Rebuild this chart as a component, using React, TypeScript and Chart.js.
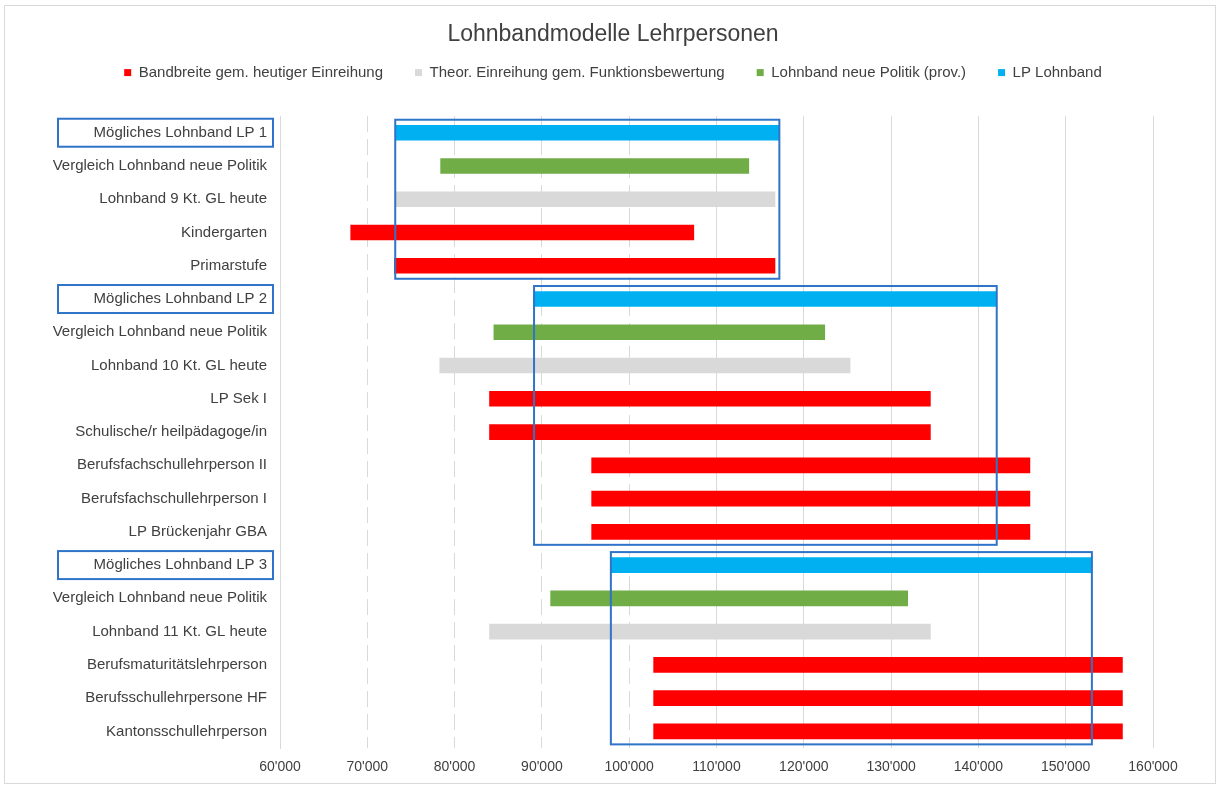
import React, { useEffect, useRef } from 'react';
import { Chart, registerables } from 'chart.js';

Chart.register(...registerables);

const categories = [
  'Mögliches Lohnband LP 1',
  'Vergleich Lohnband neue Politik',
  'Lohnband 9 Kt. GL heute',
  'Kindergarten',
  'Primarstufe',
  'Mögliches Lohnband LP 2',
  'Vergleich Lohnband neue Politik',
  'Lohnband 10 Kt. GL heute',
  'LP Sek I',
  'Schulische/r heilpädagoge/in',
  'Berufsfachschullehrperson II',
  'Berufsfachschullehrperson I',
  'LP Brückenjahr GBA',
  'Mögliches Lohnband LP 3',
  'Vergleich Lohnband neue Politik',
  'Lohnband 11 Kt. GL heute',
  'Berufsmaturitätslehrperson',
  'Berufsschullehrpersone HF',
  'Kantonsschullehrperson',
];

type Band = [number, number] | null;

// Bandbreite gem. heutiger Einreihung (red)
const bandbreite: Band[] = [
  null, null, null, [68100, 107400], [73100, 116700],
  null, null, null, [84000, 134500], [84000, 134500], [95700, 145900], [95700, 145900], [95700, 145900],
  null, null, null, [102800, 156500], [102800, 156500], [102800, 156500],
];

// Theor. Einreihung gem. Funktionsbewertung (grey)
const theorEinreihung: Band[] = [
  null, null, [73300, 116700], null, null,
  null, null, [78300, 125300], null, null, null, null, null,
  null, null, [84000, 134500], null, null, null,
];

// Lohnband neue Politik (prov.) (green)
const neuePolitik: Band[] = [
  null, [78400, 113700], null, null, null,
  null, [84500, 122400], null, null, null, null, null, null,
  null, [91000, 131900], null, null, null, null,
];

// LP Lohnband (blue)
const lpLohnband: Band[] = [
  [73200, 117200], null, null, null, null,
  [89100, 142100], null, null, null, null, null, null, null,
  [97900, 153000], null, null, null, null, null,
];

// group rows: first row (LP Lohnband) and last row of each group
const groupFirstRows = [0, 5, 13];
const groupLastRows = [4, 12, 18];

const xTicksMin = 60000;
const xTicksMax = 160000;
const xTicksStep = 10000;
const dashedGridValues = [70000, 80000, 90000, 100000];

const fmt = (v: number) => String(Math.round(v)).replace(/\B(?=(\d{3})+(?!\d))/g, "'");

const FONT = "'Liberation Sans', Arial, sans-serif";

const groupBoxesPlugin = {
  id: 'groupBoxes',
  afterDatasetsDraw(chart: any) {
    const xs = chart.scales.x;
    const ys = chart.scales.y;
    const ctx = chart.ctx as CanvasRenderingContext2D;
    ctx.save();
    ctx.strokeStyle = '#2F74C8';
    ctx.lineWidth = 2;
    groupFirstRows.forEach((first, g) => {
      const last = groupLastRows[g];
      const band = lpLohnband[first];
      if (!band) return;
      const x1 = xs.getPixelForValue(band[0]);
      const x2 = xs.getPixelForValue(band[1]);
      const y1 = ys.getPixelForValue(first) - 13;
      const y2 = ys.getPixelForValue(last) + 13;
      ctx.strokeRect(x1, y1, x2 - x1, y2 - y1);
      // box round the label
      const ly = ys.getPixelForValue(first);
      const right = ys.right - 7;
      ctx.strokeRect(right - 215, ly - 14, 215, 28);
    });
    ctx.restore();
  },
};

export default function App() {
  const canvasRef = useRef<HTMLCanvasElement | null>(null);

  useEffect(() => {
    if (!canvasRef.current) return;
    const chart = new Chart(canvasRef.current, {
      type: 'bar',
      data: {
        labels: categories,
        datasets: [
          { label: 'Bandbreite gem. heutiger Einreihung', data: bandbreite as any, backgroundColor: '#FF0000', borderColor: '#FF0000', borderWidth: 0 },
          { label: 'Theor. Einreihung gem. Funktionsbewertung', data: theorEinreihung as any, backgroundColor: '#D9D9D9', borderColor: '#D9D9D9', borderWidth: 0 },
          { label: 'Lohnband neue Politik (prov.)', data: neuePolitik as any, backgroundColor: '#70AD47', borderColor: '#70AD47', borderWidth: 0 },
          { label: 'LP Lohnband', data: lpLohnband as any, backgroundColor: '#00B0F0', borderColor: '#00B0F0', borderWidth: 0 },
        ],
      },
      options: {
        indexAxis: 'y',
        animation: false,
        responsive: false,
        maintainAspectRatio: false,
        datasets: {
          bar: { grouped: false, barThickness: 15, skipNull: true } as any,
        },
        layout: { padding: { left: 8, right: 0, top: 0, bottom: 0 } },
        plugins: {
          title: {
            display: true,
            text: 'Lohnbandmodelle Lehrpersonen',
            color: '#404040',
            font: { family: FONT, size: 23, weight: 'normal' },
            padding: { top: 21, bottom: -15.5 },
          },
          subtitle: {
            display: true,
            text: '',
            weight: 500,
            font: { family: FONT, size: 10, lineHeight: 1 },
            padding: { top: 16, bottom: 0 },
          } as any,
          legend: {
            display: true,
            position: 'top',
            labels: {
              boxWidth: 7,
              boxHeight: 7,
              padding: 32,
              color: '#404040',
              font: { family: FONT, size: 15 },
            },
          },
          tooltip: { enabled: false },
        },
        scales: {
          x: {
            type: 'linear',
            min: xTicksMin,
            max: xTicksMax,
            ticks: {
              stepSize: xTicksStep,
              color: '#404040',
              font: { family: FONT, size: 14 },
              padding: 11,
              callback: (v: any) => fmt(Number(v)),
            },
            grid: {
              color: '#D9D9D9',
              lineWidth: 1,
              drawTicks: false,
            },
            border: {
              display: false,
              dash: (ctx: any) => (ctx.tick && dashedGridValues.includes(ctx.tick.value) ? [16, 7] : []),
            },
            afterFit: (scale: any) => {
              scale.height = 41;
            },
          },
          y: {
            type: 'category',
            offset: true,
            ticks: {
              color: '#404040',
              font: { family: FONT, size: 15 },
              padding: 13,
              autoSkip: false,
            },
            grid: { display: false, drawTicks: false },
            border: { display: true, color: '#D9D9D9', width: 1 },
            afterFit: (scale: any) => {
              scale.width = 272;
            },
          },
          yRight: {
            type: 'category',
            position: 'right',
            offset: true,
            ticks: { display: false },
            grid: { display: false, drawTicks: false },
            border: { display: false },
            afterFit: (scale: any) => {
              scale.width = 65;
            },
          },
        },
      },
      plugins: [groupBoxesPlugin],
    });
    return () => chart.destroy();
  }, []);

  return (
    <div style={{ position: 'absolute', left: 0, top: 0, width: 1218, height: 789, background: '#fff' }}>
      <canvas ref={canvasRef} width={1218} height={789} style={{ position: 'absolute', left: 0, top: 0, width: 1218, height: 789 }} />
      <div
        style={{
          position: 'absolute',
          left: 4,
          top: 5,
          width: 1210,
          height: 777,
          border: '1px solid #D9D9D9',
          pointerEvents: 'none',
        }}
      />
    </div>
  );
}
